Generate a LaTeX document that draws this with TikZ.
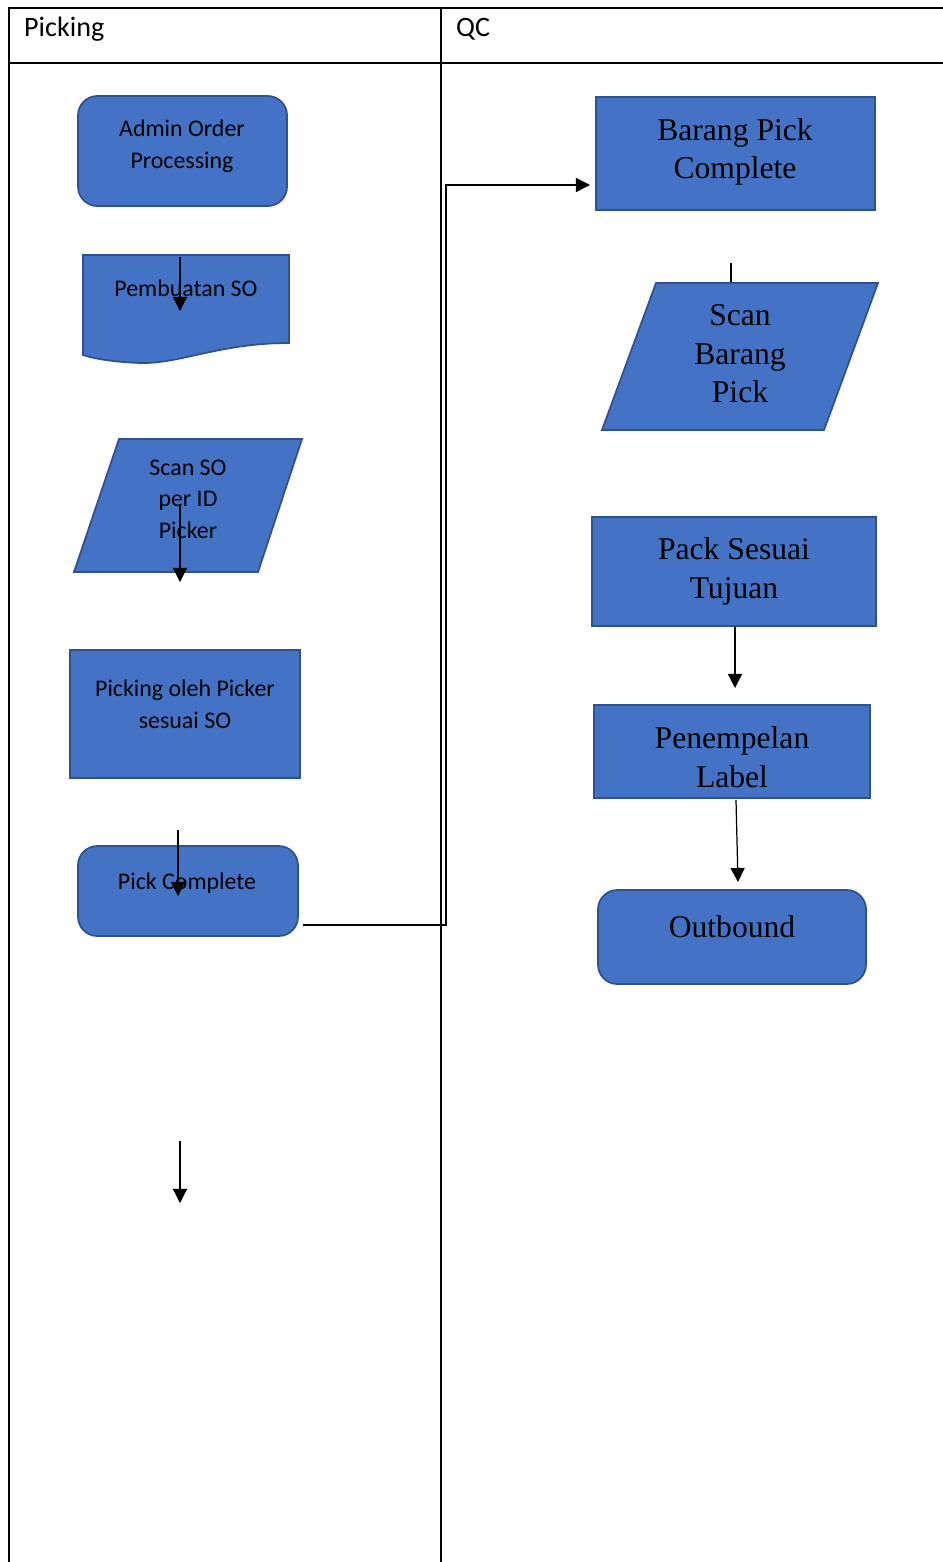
\documentclass[tikz,border=0pt]{standalone}
\usepackage{fontspec}
\setmainfont{Liberation Serif}
\setsansfont{Carlito}
\usetikzlibrary{arrows.meta}
\definecolor{boxfill}{HTML}{4472C4}
\definecolor{boxline}{HTML}{2F528F}

\begin{document}
\begin{tikzpicture}[x=0.02cm,y=-0.02cm,
    lane/.style={line width=1.1pt},
    flowbox/.style={draw=boxline,fill=boxfill,line width=1pt,inner sep=0pt},
    roundbox/.style={flowbox,rounded corners=11pt},
    sanstext/.style={font=\sffamily\fontsize{13.6}{18}\selectfont,align=center},
    seriftext/.style={font=\fontsize{18}{22}\selectfont,align=center},
    headtext/.style={font=\sffamily\fontsize{16}{19}\selectfont},
    flowarrow/.style={-{Triangle[length=8pt,width=8pt]},line width=0.7pt}]
        \useasboundingbox (0,0) rectangle (943,1562);
        % Lanes
        \draw[lane] (9,1562) -- (9,8) -- (943,8);
        \draw[lane] (9,63) -- (943,63);
        \draw[lane] (441,8) -- (441,1562);
        \node[headtext,anchor=west] (pickhead) at (18,29) {Picking};
        \node[headtext,anchor=west] (qchead) at (450,29) {QC};
        % Coordinates for the connectors
        \coordinate (s1) at (180,257); \coordinate (e1) at (180,311);
        \coordinate (s2) at (180,505); \coordinate (e2) at (180,582);
        \coordinate (s3) at (178,830); \coordinate (e3) at (178,896);
        \coordinate (s4) at (180,1141); \coordinate (e4) at (180,1203);
        \coordinate (s5) at (303,925); \coordinate (e5) at (590,185);
        \coordinate (s6) at (731,263); \coordinate (e6) at (731,283);
        \coordinate (s7) at (735,627); \coordinate (e7) at (735,688);
        \coordinate (s8) at (736,800); \coordinate (e8) at (738,882);
        \draw[line width=0.7pt] (s6) -- (e6);
        % Picking lane
        \node[roundbox,minimum width=209*0.02cm,minimum height=110*0.02cm] (admin) at (182.5,151) {};
        \node[sanstext] (admintext) at (182,146) {Admin Order\\Processing};
        \filldraw[draw=boxline,fill=boxfill,line width=1pt] (83,255) -- (289,255) -- (289,343)
            .. controls (220,343) and (180,364) .. (140,363) .. controls (115,362) and (95,359) .. (83,355) -- cycle;
        \node[sanstext] (so) at (186,288) {Pembuatan SO};
        \filldraw[draw=boxline,fill=boxfill,line width=1pt] (119,439) -- (302,439) -- (258,572) -- (74,572) -- cycle;
        \node[sanstext] (scanso) at (188,499) {Scan SO\\per ID\\Picker};
        \node[flowbox,minimum width=230*0.02cm,minimum height=128*0.02cm] (picking) at (185,714) {};
        \node[sanstext] (pickingtext) at (185,704.5) {Picking oleh Picker\\sesuai SO};
        \node[roundbox,minimum width=220*0.02cm,minimum height=90*0.02cm] (pickdone) at (188,891) {};
        \node[sanstext] (pickdonetext) at (187,883) {Pick Complete};
        % QC lane
        \node[flowbox,minimum width=279*0.02cm,minimum height=113*0.02cm] (barang) at (735.5,153.5) {};
        \node[seriftext,font=\fontsize{18}{21.6}\selectfont] (barangtext) at (735,152) {Barang Pick\\Complete};
        \filldraw[draw=boxline,fill=boxfill,line width=1pt] (656,283) -- (878,283) -- (824,430) -- (602,430) -- cycle;
        \node[seriftext] (scanbrg) at (740,354) {Scan\\Barang\\Pick};
        \node[flowbox,minimum width=284*0.02cm,minimum height=109*0.02cm] (pack) at (734,571.5) {};
        \node[seriftext,font=\fontsize{18}{22.6}\selectfont] (packtext) at (734,571.5) {Pack Sesuai\\Tujuan};
        \node[flowbox,minimum width=276*0.02cm,minimum height=93*0.02cm] (label) at (732,751.5) {};
        \node[seriftext] (labeltext) at (732,757) {Penempelan\\Label};
        \node[roundbox,minimum width=268*0.02cm,minimum height=94*0.02cm] (outbound) at (732,937) {};
        \node[seriftext] (outboundtext) at (732,927) {Outbound};
        % Arrows
        \draw[flowarrow] (s1) -- (e1);
        \draw[flowarrow] (s2) -- (e2);
        \draw[flowarrow] (s3) -- (e3);
        \draw[flowarrow] (s4) -- (e4);
        \draw[flowarrow] (s5) -- (446,925) -- (446,185) -- (e5);
        \draw[flowarrow] (s7) -- (e7);
        \draw[flowarrow] (s8) -- (e8);
    \end{tikzpicture}
\end{document}
